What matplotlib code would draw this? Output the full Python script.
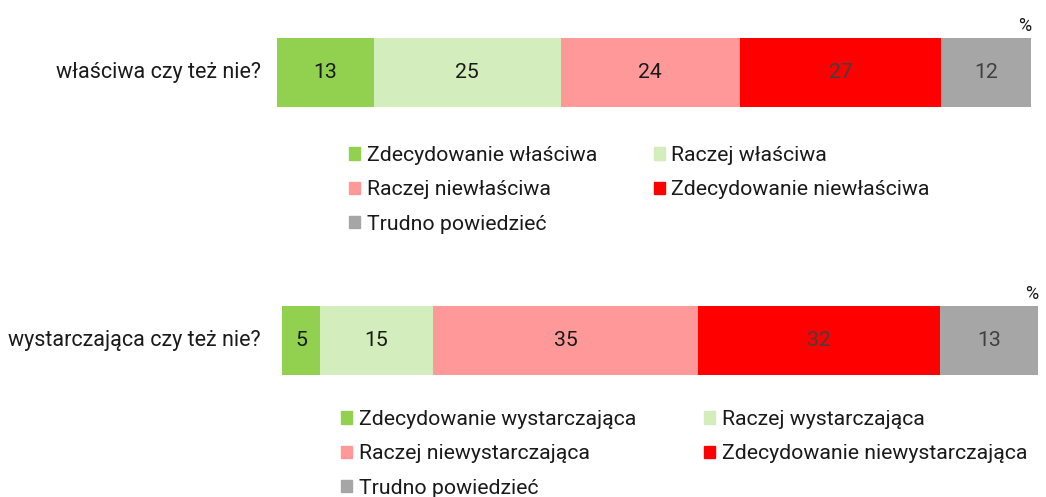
import matplotlib

matplotlib.use("Agg")
import matplotlib.pyplot as plt
from matplotlib.patches import Patch

plt.rcParams["font.family"] = ["Roboto", "DejaVu Sans"]

QUESTIONS = ["właściwa czy też nie?", "wystarczająca czy też nie?"]
VALUES_1 = [13, 25, 24, 27, 12]
VALUES_2 = [5, 15, 35, 32, 13]
LABELS_1 = ["Zdecydowanie właściwa", "Raczej właściwa", "Raczej niewłaściwa",
            "Zdecydowanie niewłaściwa", "Trudno powiedzieć"]
LABELS_2 = ["Zdecydowanie wystarczająca", "Raczej wystarczająca", "Raczej niewystarczająca",
            "Zdecydowanie niewystarczająca", "Trudno powiedzieć"]

COLORS = ["#92D050", "#D4EDBC", "#FF9999", "#FF0000", "#A6A6A6"]
TEXT_COLORS = ["#1a1a1a", "#1a1a1a", "#1a1a1a", "#404040", "#404040"]
W, H = 1046, 497
FS = 15.3


def draw(fig, rect, question, values, labels, label_x, leg_anchor, col_gap):
    ax = fig.add_axes(rect)
    left = 0
    for v, c, tc in zip(values, COLORS, TEXT_COLORS):
        ax.barh(0, v, left=left, height=1.0, color=c, edgecolor="none")
        ax.text(left + v / 2, 0, str(v), ha="center", va="center", fontsize=FS, color=tc)
        left += v
    ax.set_xlim(0, sum(values))
    ax.set_ylim(-0.5, 0.5)
    ax.axis("off")
    fig.text(label_x, rect[1] + rect[3] / 2, question, ha="right", va="center",
             fontsize=15.5, color="#1a1a1a")
    ax.text(1.0, 1.05, "%", transform=ax.transAxes, ha="right", va="bottom",
            fontsize=13, color="#1a1a1a")
    handles = [Patch(color=c) for c in COLORS]
    order = [0, 2, 4, 1, 3]
    fig.legend([handles[i] for i in order], [labels[i] for i in order], ncol=2,
               loc="upper left", bbox_to_anchor=leg_anchor, frameon=False, fontsize=FS,
               handlelength=0.53, handleheight=0.53, handletextpad=0.3,
               columnspacing=col_gap, labelspacing=0.72, borderpad=0, borderaxespad=0,
               labelcolor="#1a1a1a")


fig = plt.figure(figsize=(W / 100, H / 100), dpi=100)
draw(fig, [277 / W, 1 - 107 / H, 754 / W, 69 / H], QUESTIONS[0], VALUES_1, LABELS_1,
     261 / W, (349 / W, 1 - 146 / H), 2.68)
draw(fig, [282 / W, 1 - 375 / H, 756 / W, 69 / H], QUESTIONS[1], VALUES_2, LABELS_2,
     261 / W, (341 / W, 1 - 410 / H), 3.2)

fig.savefig("out.png", dpi=100)
